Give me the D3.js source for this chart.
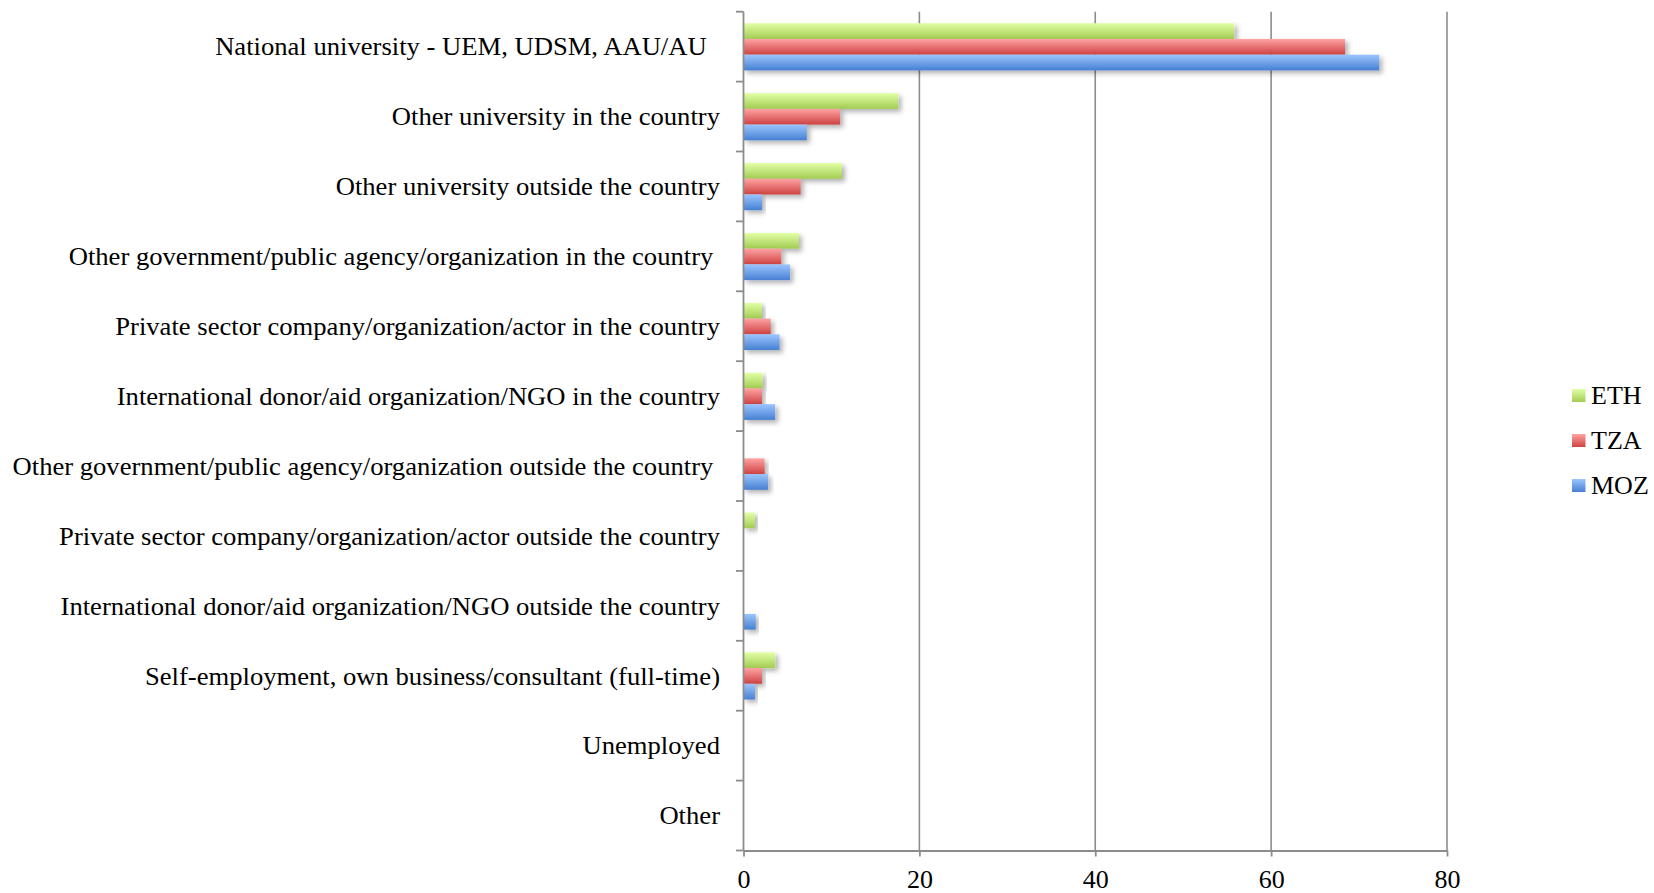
<!DOCTYPE html>
<html>
<head>
<meta charset="utf-8">
<script src="https://cdn.jsdelivr.net/npm/d3@7"></script>
<style>
  html, body { margin: 0; padding: 0; background: #fff; }
  svg { display: block; }
  text { font-family: "Liberation Serif", "Times New Roman", serif; fill: #000; }
</style>
</head>
<body>
<svg id="chart" width="1654" height="893"></svg>
<script>
const categories = [
  "National university - UEM, UDSM, AAU/AU  ",
  "Other university in the country",
  "Other university outside the country",
  "Other government/public agency/organization in the country ",
  "Private sector company/organization/actor in the country",
  "International donor/aid organization/NGO in the country",
  "Other government/public agency/organization outside the country ",
  "Private sector company/organization/actor outside the country",
  "International donor/aid organization/NGO outside the country",
  "Self-employment, own business/consultant (full-time)",
  "Unemployed",
  "Other"
];
const seriesNames = ["ETH", "TZA", "MOZ"];
const ETH = [55.8, 17.6, 11.2, 6.3, 2.1, 2.2, 0, 1.3, 0, 3.6, 0, 0];
const TZA = [68.4, 11.0, 6.5, 4.3, 3.1, 2.1, 2.4, 0, 0, 2.1, 0, 0];
const MOZ = [72.3, 7.2, 2.1, 5.3, 4.1, 3.6, 2.8, 0, 1.4, 1.3, 0, 0];
const xTicks = [0, 20, 40, 60, 80];

const seriesValues = { ETH, TZA, MOZ };
const colors = {
  ETH: ["#e2ffa6", "#a2cc52"],
  TZA: ["#ffa3a3", "#cf4242"],
  MOZ: ["#9cc5ff", "#4680d2"]
};

const svg = d3.select("#chart");
const pLeft = 743.5, pRight = 1447, pTop = 11.7, pBottom = 850.5;

const x = d3.scaleLinear().domain([0, 80]).range([pLeft, pRight]);
const y0 = d3.scaleBand().domain(categories).range([pTop, pBottom]).padding(0);
const bw = y0.bandwidth();
const y1 = d3.scaleBand().domain(seriesNames).range([0.165 * bw, 0.84 * bw]).padding(0);

const defs = svg.append("defs");
seriesNames.forEach(s => {
  const g = defs.append("linearGradient").attr("id", "grad-" + s)
    .attr("x1", 0).attr("y1", 0).attr("x2", 0).attr("y2", 1);
  g.append("stop").attr("offset", "0%").attr("stop-color", colors[s][0]);
  g.append("stop").attr("offset", "100%").attr("stop-color", colors[s][1]);
});
const f = defs.append("filter").attr("id", "shadow")
  .attr("x", "-10%").attr("y", "-30%").attr("width", "130%").attr("height", "190%");
f.append("feDropShadow").attr("dx", 3).attr("dy", 3).attr("stdDeviation", 2.5)
  .attr("flood-color", "#000").attr("flood-opacity", 0.3);

const gridColor = "#8c8c8c";

// vertical gridlines
svg.append("g").selectAll("line").data(xTicks.filter(d => d > 0)).join("line")
  .attr("x1", d => x(d)).attr("x2", d => x(d))
  .attr("y1", pTop).attr("y2", pBottom)
  .attr("stroke", gridColor).attr("stroke-width", 1.6);

// bars
const groups = svg.append("g").selectAll("g").data(categories).join("g")
  .attr("transform", d => `translate(0,${y0(d)})`);
groups.each(function(cat, i) {
  const g = d3.select(this);
  seriesNames.forEach(s => {
    const v = seriesValues[s][i];
    if (v <= 0) return;
    g.append("rect")
      .attr("x", x(0))
      .attr("y", y1(s))
      .attr("width", x(v) - x(0))
      .attr("height", y1.bandwidth())
      .attr("fill", `url(#grad-${s})`)
      .attr("filter", "url(#shadow)");
  });
});

// left axis (category)
const ya = svg.append("g").attr("transform", `translate(${pLeft},0)`);
ya.append("line").attr("x1", 0).attr("x2", 0).attr("y1", pTop).attr("y2", pBottom)
  .attr("stroke", gridColor).attr("stroke-width", 1.8);
const boundaries = d3.range(categories.length + 1).map(i => pTop + i * bw);
ya.selectAll("line.tk").data(boundaries).join("line").attr("class", "tk")
  .attr("x1", -7.5).attr("x2", 0).attr("y1", d => d).attr("y2", d => d)
  .attr("stroke", gridColor).attr("stroke-width", 1.8);
ya.selectAll("text").data(categories).join("text")
  .attr("transform", d => `translate(${720 - pLeft},${y0(d) + bw / 2}) scale(1.065,1)`)
  .attr("dy", "0.35em")
  .attr("text-anchor", "end")
  .style("white-space", "pre")
  .attr("font-size", 25)
  .text(d => d);

// bottom axis
const xAxis = d3.axisBottom(x).tickValues(xTicks).tickSize(6).tickSizeOuter(0).tickPadding(14);
const xa = svg.append("g").attr("transform", `translate(0,${pBottom})`).call(xAxis);
xa.select(".domain").attr("stroke", gridColor).attr("stroke-width", 1.8);
xa.selectAll(".tick line").attr("stroke", gridColor).attr("stroke-width", 1.8);
xa.selectAll(".tick text").attr("font-size", 25)
  .attr("transform", "scale(1.04,1)")
  .attr("font-family", "Liberation Serif, Times New Roman, serif").attr("fill", "#000");

// legend
const lg = svg.append("g");
const legY = d3.scalePoint().domain(seriesNames).range([395.5, 485.5]);
seriesNames.forEach(s => {
  lg.append("rect").attr("x", 1572).attr("y", legY(s) - 6.5).attr("width", 13.5).attr("height", 13)
    .attr("fill", `url(#grad-${s})`);
  lg.append("text").attr("transform", `translate(1591,${legY(s)}) scale(1.04,1)`).attr("dy", "0.35em")
    .attr("font-size", 25).text(s);
});
</script>
</body>
</html>
